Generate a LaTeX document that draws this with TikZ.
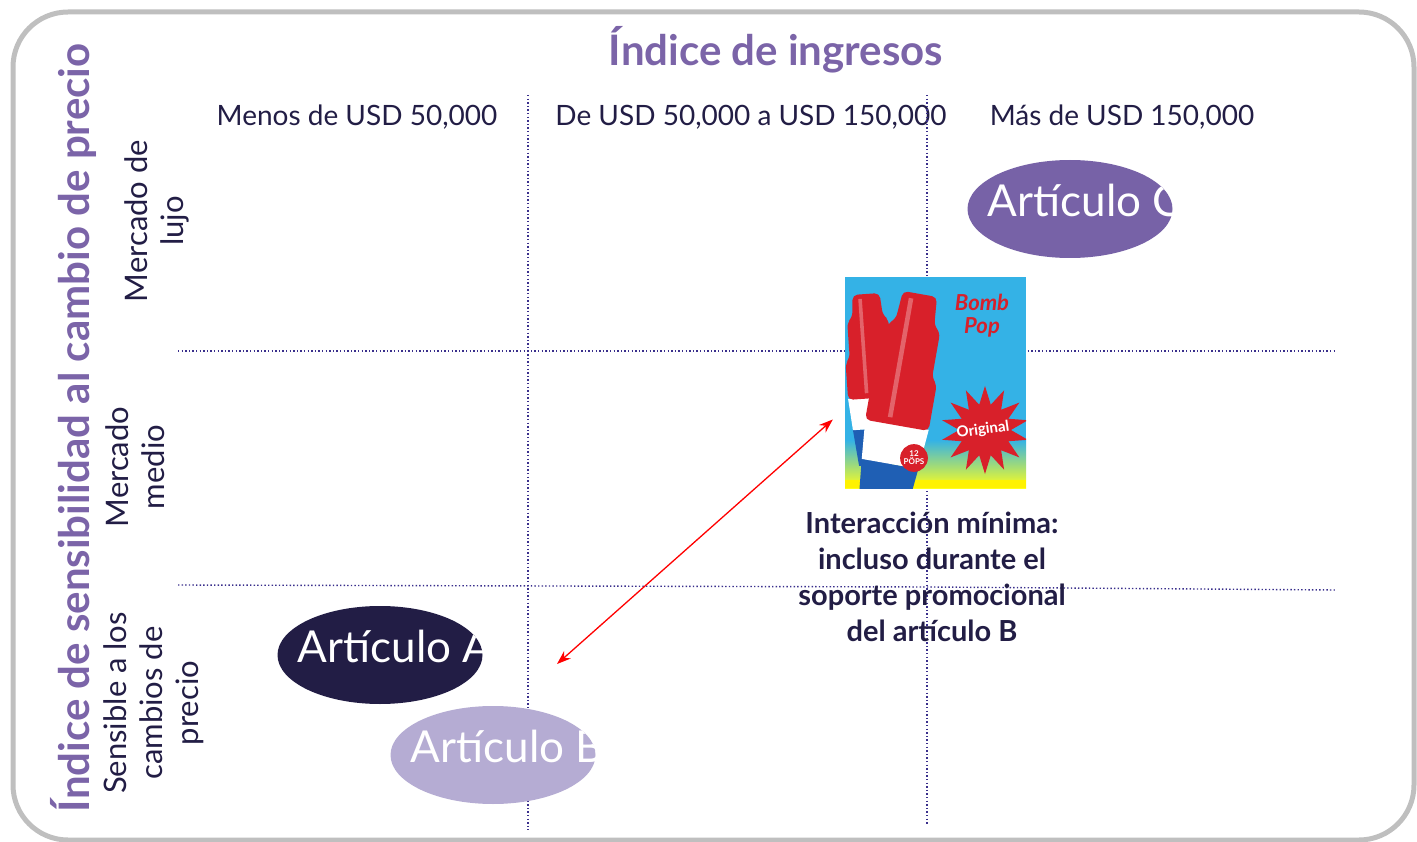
\documentclass[tikz,border=0pt]{standalone}
\usepackage{fontspec}
\setmainfont{Lato}
\usetikzlibrary{arrows.meta,shapes.geometric}
\definecolor{titlepurple}{HTML}{7B64A8}
\definecolor{navy}{HTML}{221D45}
\definecolor{lavender}{HTML}{B5ACD3}
\definecolor{itempurple}{HTML}{7762A7}
\definecolor{gridblue}{HTML}{3A2F8C}
\definecolor{framegray}{HTML}{BFBFBF}
\definecolor{skyblue}{HTML}{34B2E6}
\definecolor{popred}{HTML}{D8202A}
\definecolor{popblue}{HTML}{1F5FB4}

\begin{document}
\begin{tikzpicture}[x=1pt,y=-1pt,
    grid/.style={gridblue,line width=1.4pt,dash pattern=on 1.4pt off 2.2pt},
    item/.style={ellipse,minimum width=205pt,minimum height=98pt,inner sep=0pt,
      path picture={\node[itemtext] at ([xshift=20pt,yshift=9pt]path picture bounding box.west) {#1};}},
    itemtext/.style={rectangle,minimum width=0pt,minimum height=0pt,text=white,
      inner sep=0pt,anchor=west,font=\fontsize{44}{48}\selectfont},
    header/.style={text=navy,font=\fontsize{28}{32}\selectfont},
    rowlabel/.style={text=navy,rotate=90,align=center,
      font=\fontsize{31}{36}\selectfont},
    axistitle/.style={text=titlepurple,font=\bfseries\fontsize{42}{48}\selectfont}]
  \useasboundingbox (0,0) rectangle (1417,842);
  \draw[framegray,line width=5pt,rounded corners=55pt] (13,12) rectangle (1414,840);

  % titles
  \node[axistitle] (income) at (776,50) {Índice de ingresos};
  \node[axistitle,rotate=90] (sens) at (73,428) {Índice de sensibilidad al cambio de precio};

  % column and row labels
  \node[header] (low) at (357,117) {Menos de USD 50,000};
  \node[header] (mid) at (751,117) {De USD 50,000 a USD 150,000};
  \node[header] (high) at (1122,117) {Más de USD 150,000};
  \node[rowlabel] (lux) at (157,221) {Mercado de\\lujo};
  \node[rowlabel] (medium) at (135,467) {Mercado\\medio};
  \node[rowlabel] (sensible) at (154,703) {Sensible a los\\cambios de\\precio};

  % grid
  \draw[grid] (178,351) -- (1335,351);
  \draw[grid] (178,585) -- (930,587) -- (1335,590);
  \draw[grid] (528,95) -- (528,830);
  \draw[grid] (927,95) -- (927,825);

  % items
  \node[item={Artículo A},fill=navy] (artA) at (380,655) {};
  \node[item={Artículo B},fill=lavender] (artB) at (493,755) {};
  \node[item={Artículo C},fill=itempurple] (artC) at (1070,209) {};

  % product box
  \node[minimum width=181pt,minimum height=211pt,inner sep=0pt] (photo) at (935.5,382.5) {};
  \begin{scope}
    \clip (photo.north west) rectangle (photo.south east);
    \fill[skyblue] (photo.north west) rectangle (photo.south east);
    \shade[top color=skyblue,bottom color=yellow!90!white] (845,440) rectangle (1026,488);
    \fill[yellow] (845,480) rectangle (1026,488);
    \node[star,star points=14,star point ratio=1.7,fill=popred,minimum size=88pt]
      (burst) at (985,430) {};
    \foreach \px/\rot/\sc in {866/4/0.9,920/-10/1.15}{
      \begin{scope}[shift={(\px,294)},rotate=\rot,scale=\sc]
        \fill[yellow!60!brown] (-6,180) rectangle (6,230);
        \fill[popblue] (-25,150) -- (25,150) -- (21,190) -- (-21,190) -- cycle;
        \fill[white] (-28,115) -- (28,115) -- (25,150) -- (-25,150) -- cycle;
        \fill[popred,rounded corners=5pt] (-15,0) -- (15,0) -- (17,25) -- (23,30)
          -- (23,70) -- (28,75) -- (28,116) -- (-28,116) -- (-28,75) -- (-23,70)
          -- (-23,30) -- (-17,25) -- cycle;
        \fill[white,opacity=.3] (-9,5) rectangle (-5,110);
      \end{scope}
    }
    \node[text=popred,font=\bfseries\itshape\fontsize{22}{23}\selectfont,align=center]
      (brand) at (982,316) {Bomb\\Pop};
    \node[text=white,font=\bfseries\fontsize{15}{15}\selectfont,rotate=8] (orig) at (983,430) {Original};
    \node[circle,fill=popred,text=white,inner sep=1pt,align=center,
      font=\bfseries\fontsize{8}{8}\selectfont] (pops) at (914,458) {12\\PÖPS};
  \end{scope}

  % note
  \node[text=navy,align=center,font=\bfseries\fontsize{29}{36}\selectfont]
    (note) at (932,577) {Interacción mínima:\\incluso durante el\\soporte promocional\\del artículo B};

  % interaction arrow
  \coordinate (lowtip) at (557,664);
  \draw[red,line width=1.3pt,{Stealth[length=14pt,width=10pt]}-{Stealth[length=14pt,width=10pt]}]
    (lowtip) -- ([shift={(-12,37)}]photo.west);
\end{tikzpicture}
\end{document}
